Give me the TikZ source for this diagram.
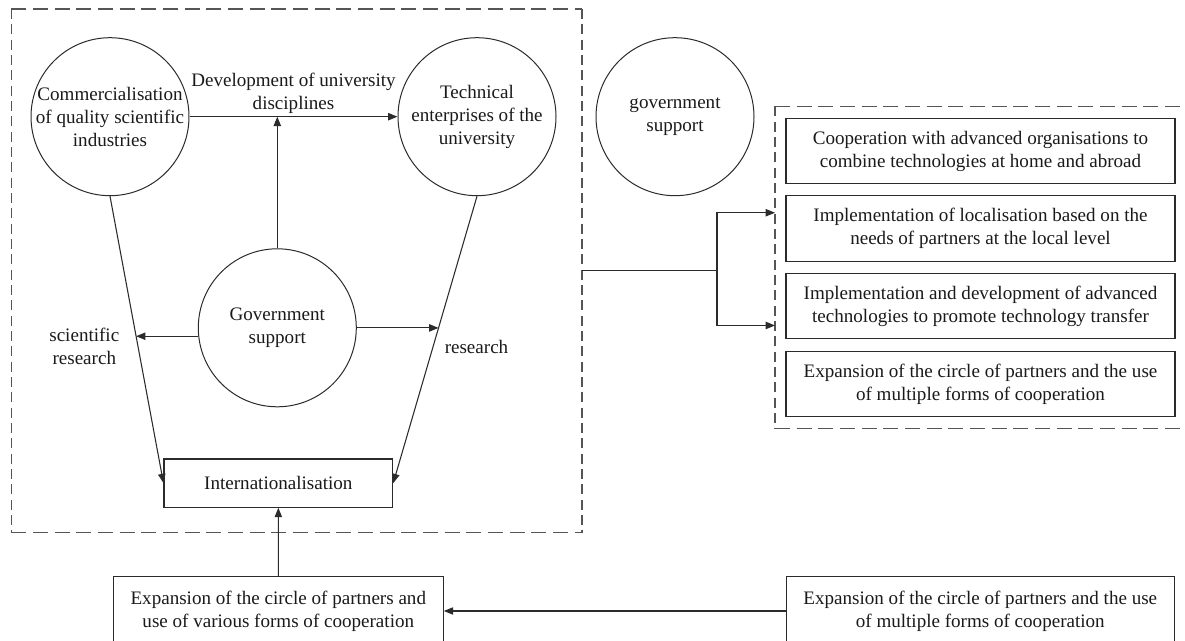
\documentclass[tikz,border=0pt]{standalone}
\usepackage{fontspec}
\setmainfont{Liberation Serif}
\usetikzlibrary{arrows.meta,calc}
\definecolor{ink}{HTML}{2B2B2B}
\definecolor{txt}{HTML}{1A1A1A}
\definecolor{dashink}{HTML}{555555}
\begin{document}
\begin{tikzpicture}[x=0.75pt,y=-0.75pt,
  every node/.style={text=txt, font=\fontsize{14.3}{17.25}\selectfont},
  line/.style={draw=ink, line width=0.8pt},
  arr/.style={line, -{Triangle[length=7pt,width=5.5pt]}},
  ring/.style={circle, draw=ink, line width=0.75pt, minimum size=118.5pt, inner sep=0pt},
  card/.style={rectangle, draw=ink, line width=0.8pt, align=center, inner sep=0pt},
  group/.style={rectangle, inner sep=0pt},
  hdash/.style={draw=dashink, line width=0.8pt, dash pattern=on 11.25pt off 5pt},
  vdash/.style={draw=dashink, line width=0.8pt, dash pattern=on 7.5pt off 4pt},
  tag/.style={align=center, inner sep=0pt}]
\useasboundingbox (0,0) rectangle (1185,641);
\clip (0,0) rectangle (1185,641);

% dashed groupings (long dashes across, short dashes down)
\node[group, minimum width=427.65pt, minimum height=392.25pt] (grp) at (296.6,270.8) {};
\node[group, minimum width=314.8pt, minimum height=241.2pt] (grp2) at (985.15,267.5) {};
\draw[hdash] (grp.north west) -- (grp.north east);
\draw[hdash] (grp.south west) -- (grp.south east);
\draw[vdash] (grp.north west) -- (grp.south west);
\draw[vdash] (grp.north east) -- (grp.south east);
\draw[hdash] (grp2.north west) -- (grp2.north east);
\draw[hdash] (grp2.south west) -- (grp2.south east);
\draw[vdash] (grp2.north west) -- (grp2.south west);

% circles
\node[ring, label={[tag]center:Commercialisation\\of quality scientific\\industries}] (c1) at (110,116.7) {};
\node[ring, label={[tag]center:Technical\\enterprises of the\\university}] (c2) at (477,116.7) {};
\node[ring, label={[tag]center:Government\\support}] (gov) at (277.3,327.8) {};
\node[ring, label={[tag]center:government\\support}] (gs) at (675,116.7) {};

% boxes
\node[card, minimum width=171.5pt, minimum height=36.2pt] (intl) at (278.35,483.15) {Internationalisation};
\node[card, minimum width=291.75pt, minimum height=49.1pt] (r1) at (980.5,151.2)
  {Cooperation with advanced organisations to\\combine technologies at home and abroad};
\node[card, minimum width=291.75pt, minimum height=49.1pt] (r2) at (980.5,228.4)
  {Implementation of localisation based on the\\needs of partners at the local level};
\node[card, minimum width=291.75pt, minimum height=49.1pt] (r3) at (980.5,306.2)
  {Implementation and development of advanced\\technologies to promote technology transfer};
\node[card, minimum width=291.75pt, minimum height=49.1pt] (r4) at (980.5,383.9)
  {Expansion of the circle of partners and the use\\of multiple forms of cooperation};
\node[card, minimum width=247.5pt, minimum height=51.75pt] (bl) at (278.3,611)
  {Expansion of the circle of partners and\\use of various forms of cooperation};
\node[card, minimum width=291.4pt, minimum height=51.75pt] (br) at (980.3,611)
  {Expansion of the circle of partners and the use\\of multiple forms of cooperation};

% free labels
\node[tag] (dev) at (293.5,93.3) {Development of university\\disciplines};
\node[tag] (sci) at (84.3,346.2) {scientific\\research};
\node[tag] (res) at (476.5,346.7) {research};

% connectors
\draw[arr] (c1.east) -- (c2.west);
\draw[arr] (gov.north) -- (gov.north |- c1.east);
\draw[arr] (c1.south) -- coordinate[pos=0.488] (sL) (intl.west);
\draw[arr] (c2.south) -- coordinate[pos=0.459] (sR) (intl.east);
\draw[arr] (sL -| gov.west) -- (sL);
\draw[arr] (sR -| gov.east) -- (sR);
\draw[arr] (bl.north) -- (intl.south);
\draw[arr] (br.west) -- (bl.east);

\coordinate (fork) at ($(grp.east)+(135,0)$);
\coordinate (t1) at ($(grp2.north west)!0.33!(grp2.south west)$);
\coordinate (t2) at ($(grp2.north west)!0.68!(grp2.south west)$);
\draw[line] (grp.east) -- (fork);
\draw[arr] (fork) |- (t1);
\draw[arr] (fork) |- (t2);
\end{tikzpicture}
\end{document}
